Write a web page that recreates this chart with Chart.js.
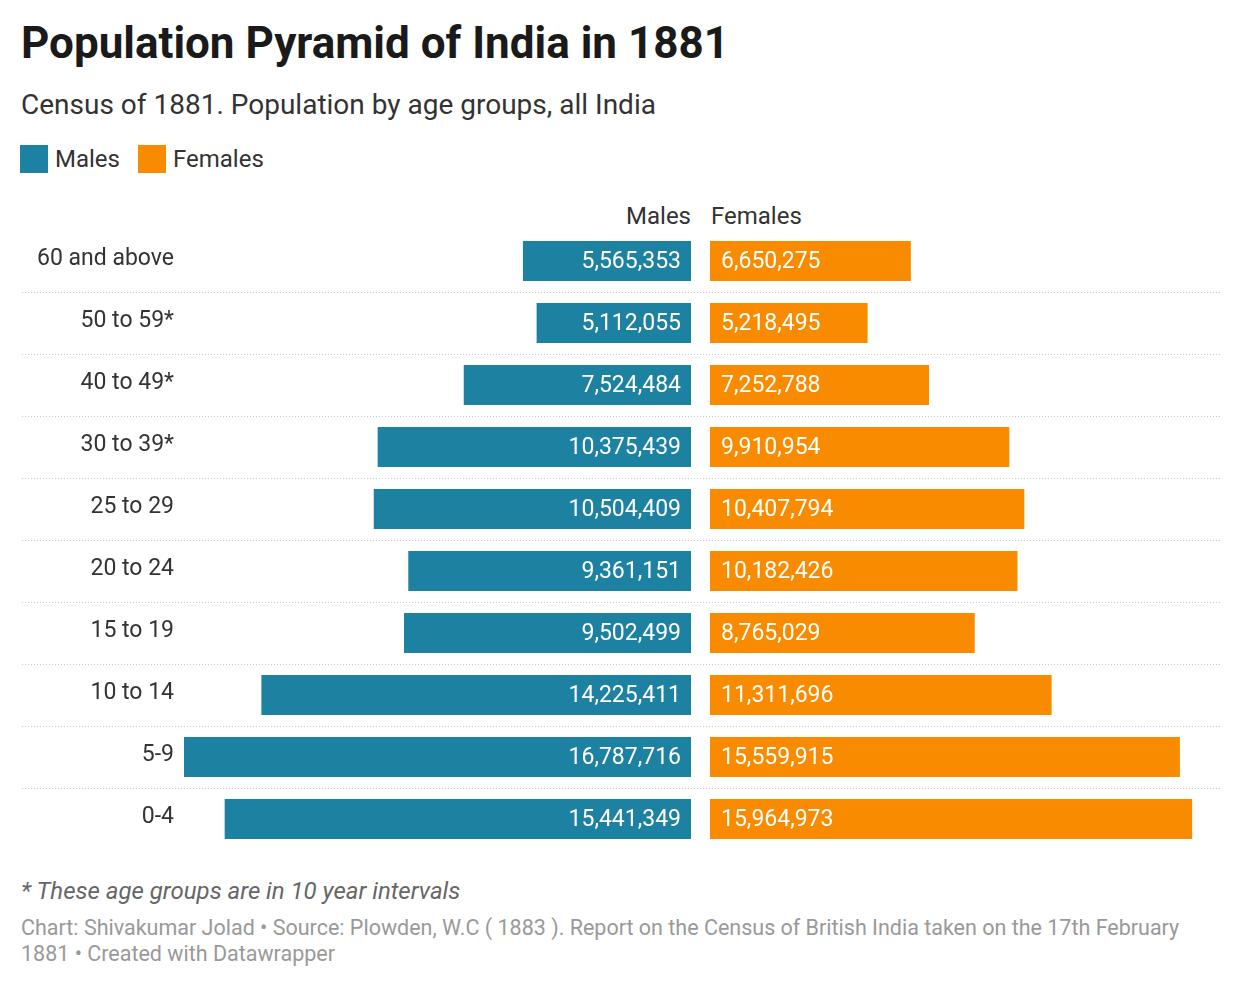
<!DOCTYPE html>
<html>
<head>
<meta charset="utf-8">
<script src="https://cdn.jsdelivr.net/npm/chart.js@4"></script>
<style>
  body { margin: 0; background: #fff; font-family: Roboto, sans-serif; color: #1a1a1a; }
  .abs { position: absolute; }
  h1 { position: absolute; left: 21px; top: 17px; margin: 0; font-size: 44px; font-weight: 700; }
  .sub { left: 21px; top: 88px; font-size: 28px; color: #333; }
  .leg { top: 145px; font-size: 24px; color: #333; display: flex; align-items: center; }
  .sw { width: 28px; height: 28px; margin-right: 7px; display: inline-block; }
  .hdr { top: 202px; font-size: 24px; color: #333; }
  .note { left: 21px; top: 877px; font-size: 24px; font-style: italic; color: #666; }
  .src { left: 21px; top: 915px; font-size: 21.5px; color: #999; line-height: 26px; width: 1195px; }
</style>
</head>
<body>
<h1>Population Pyramid of India in 1881</h1>
<div class="abs sub">Census of 1881. Population by age groups, all India</div>
<div class="abs leg" style="left:20px"><span class="sw" style="background:#1d81a2"></span>Males</div>
<div class="abs leg" style="left:138px"><span class="sw" style="background:#f98b00"></span>Females</div>
<div class="abs hdr" style="right:549px">Males</div>
<div class="abs hdr" style="left:711px">Females</div>
<div class="abs" style="left:0;top:230px;width:700px;height:620px"><canvas id="m"></canvas></div>
<div class="abs" style="left:700px;top:230px;width:540px;height:620px"><canvas id="f"></canvas></div>
<div class="abs note">* These age groups are in 10 year intervals</div>
<div class="abs src">Chart: Shivakumar Jolad • Source: Plowden, W.C ( 1883 ). Report on the Census of British India taken on the 17th February 1881 • Created with Datawrapper</div>
<script>
const ageGroups = ['60 and above', '50 to 59*', '40 to 49*', '30 to 39*', '25 to 29', '20 to 24', '15 to 19', '10 to 14', '5-9', '0-4'];
const males = [5565353, 5112055, 7524484, 10375439, 10504409, 9361151, 9502499, 14225411, 16787716, 15441349];
const females = [6650275, 5218495, 7252788, 9910954, 10407794, 10182426, 8765029, 11311696, 15559915, 15964973];
const maxVal = Math.max(...males, ...females);

const fmt = v => v.toLocaleString('en-US');

function labelsPlugin(side, lineStart) {
  return {
    id: 'lbl' + side,
    beforeDatasetsDraw(chart) {
      const { ctx, scales: { y } } = chart;
      ctx.save();
      ctx.strokeStyle = '#c8c8c8';
      ctx.lineWidth = 1;
      ctx.setLineDash([1, 2]);
      for (let i = 0; i < ageGroups.length - 1; i++) {
        const yy = Math.round((y.getPixelForValue(i) + y.getPixelForValue(i + 1)) / 2) + 0.5;
        ctx.beginPath();
        ctx.moveTo(lineStart, yy);
        ctx.lineTo(side === 'm' ? chart.width : 520, yy);
        ctx.stroke();
      }
      if (side === 'm') {
        ctx.fillStyle = '#333';
        ctx.font = '23px Roboto';
        ctx.textAlign = 'right';
        ctx.textBaseline = 'middle';
        ageGroups.forEach((g, i) => ctx.fillText(g, 174, y.getPixelForValue(i) - 2));
      }
      ctx.restore();
    },
    afterDatasetsDraw(chart) {
      const { ctx } = chart;
      const meta = chart.getDatasetMeta(0);
      ctx.save();
      ctx.fillStyle = '#fff';
      ctx.font = '23px Roboto';
      ctx.textBaseline = 'middle';
      meta.data.forEach((bar, i) => {
        const v = chart.data.datasets[0].data[i];
        if (side === 'm') {
          ctx.textAlign = 'right';
          ctx.fillText(fmt(v), bar.base - 10, bar.y + 1);
        } else {
          ctx.textAlign = 'left';
          ctx.fillText(fmt(v), bar.base + 11, bar.y + 1);
        }
      });
      ctx.restore();
    }
  };
}

function makeChart(id, data, color, side) {
  const isM = side === 'm';
  return new Chart(document.getElementById(id), {
    type: 'bar',
    data: { labels: ageGroups, datasets: [{ data, backgroundColor: color, barPercentage: 40 / 62, categoryPercentage: 1 }] },
    options: {
      indexAxis: 'y',
      responsive: true,
      maintainAspectRatio: false,
      animation: false,
      layout: { padding: isM ? { left: 184, right: 9 } : { left: 10, right: 23 } },
      plugins: { legend: { display: false }, tooltip: { enabled: false } },
      scales: {
        x: { display: false, min: 0, max: maxVal, reverse: isM },
        y: { display: false }
      }
    },
    plugins: [labelsPlugin(side, isM ? 22 : 0)]
  });
}

makeChart('m', males, '#1d81a2', 'm');
makeChart('f', females, '#f98b00', 'f');
</script>
</body>
</html>
